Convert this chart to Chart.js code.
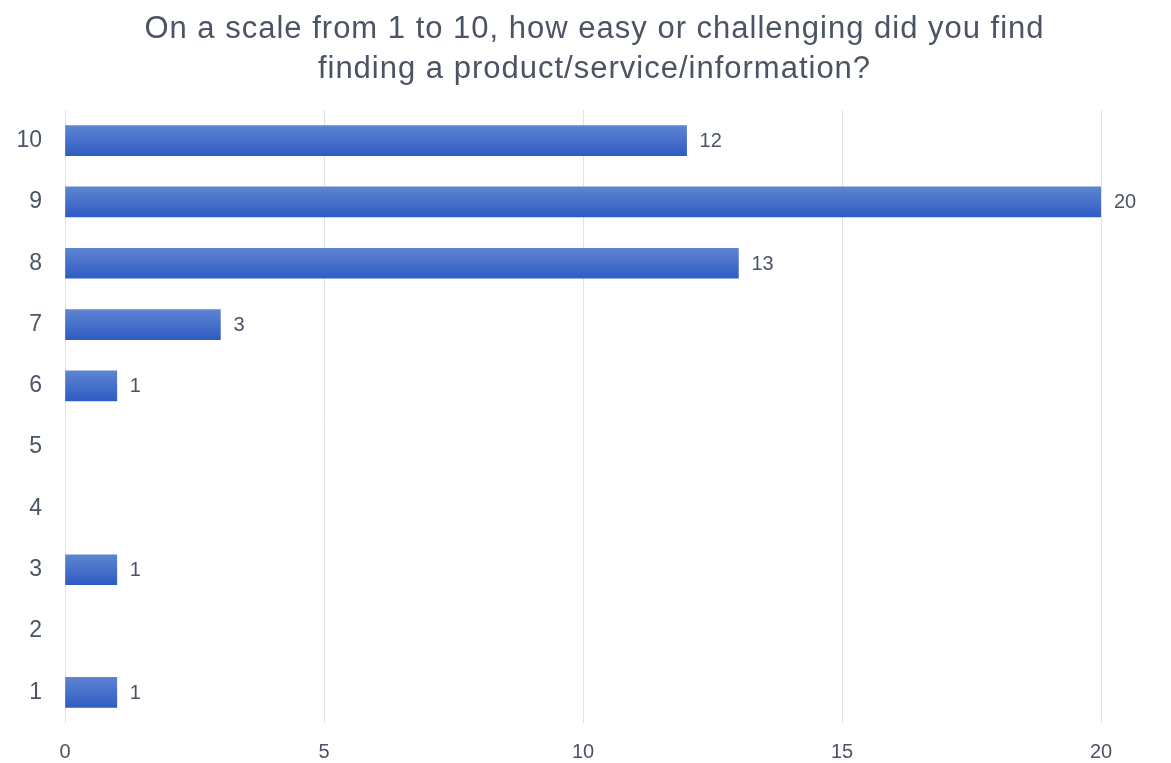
<!DOCTYPE html>
<html>
<head>
<meta charset="utf-8">
<script src="https://cdn.jsdelivr.net/npm/chart.js@4"></script>
<style>
  html, body { margin: 0; padding: 0; background: #fff; }
  #wrap { position: relative; width: 1171px; height: 763px; }
  #chartTitle {
    position: absolute; left: 0; top: 8px; width: 1171px;
    text-align: center; padding-left: 18px; box-sizing: border-box;
    font-family: 'Liberation Sans', Arial, sans-serif;
    font-size: 31px; line-height: 40px; letter-spacing: 1px;
    color: #4b5465;
  }
</style>
</head>
<body>
<div id="wrap">
  <div id="chartTitle"></div>
  <canvas id="ratingChart"></canvas>
</div>
<script>
const titleLines = [
  "On a scale from 1 to 10, how easy or challenging did you find",
  "finding a product/service/information?"
];
const ratings = ["10", "9", "8", "7", "6", "5", "4", "3", "2", "1"];
const responses = [12, 20, 13, 3, 1, 0, 0, 1, 0, 1];
const xTicks = [0, 5, 10, 15, 20];

const textColor = "#4b5465";
const fontFamily = "'Liberation Sans', Arial, sans-serif";
const barSize = 30;

document.getElementById("chartTitle").innerHTML = titleLines.join("<br>");

// value labels just past the end of each bar
const barValueLabels = {
  id: "barValueLabels",
  afterDatasetsDraw(chart) {
    const ctx = chart.ctx;
    const meta = chart.getDatasetMeta(0);
    ctx.save();
    ctx.font = "20px " + fontFamily;
    ctx.fillStyle = textColor;
    ctx.textAlign = "left";
    ctx.textBaseline = "middle";
    meta.data.forEach((bar, i) => {
      const v = chart.data.datasets[0].data[i];
      if (!v) return;
      ctx.fillText(String(v), bar.x + 13, bar.y + 1);
    });
    ctx.restore();
  }
};

// vertical gradient across each bar, lighter on top
function barGradient(context) {
  const chart = context.chart;
  const yScale = chart.scales.y;
  if (!context.raw) return "rgba(0,0,0,0)";
  if (!chart.chartArea || !yScale) return "#3f6bc9";
  const cy = yScale.getPixelForValue(context.dataIndex);
  if (!Number.isFinite(cy)) return "#3f6bc9";
  const g = chart.ctx.createLinearGradient(0, cy - barSize / 2, 0, cy + barSize / 2);
  g.addColorStop(0, "#5e84d2");
  g.addColorStop(1, "#2e5cc2");
  return g;
}

const ctx = document.getElementById("ratingChart").getContext("2d");
new Chart(ctx, {
  type: "bar",
  data: {
    labels: ratings,
    datasets: [{
      data: responses,
      backgroundColor: barGradient,
      barThickness: barSize,
      borderWidth: 0
    }]
  },
  options: {
    indexAxis: "y",
    responsive: true,
    maintainAspectRatio: false,
    animation: false,
    layout: { padding: { top: 110, right: 70, bottom: 0, left: 0 } },
    plugins: {
      legend: { display: false },
      tooltip: { enabled: false },
      title: { display: false }
    },
    scales: {
      x: {
        min: 0,
        max: 20,
        afterBuildTicks: axis => { axis.ticks = xTicks.map(v => ({ value: v })); },
        afterFit: axis => { axis.height = 40; },
        grid: { color: "#dfe2eb", drawTicks: false, lineWidth: 1 },
        border: { display: false },
        ticks: {
          color: textColor,
          padding: 17,
          font: { family: fontFamily, size: 20 }
        }
      },
      y: {
        grid: { display: false, drawTicks: false },
        border: { display: false },
        afterFit: axis => { axis.width = 65; },
        ticks: {
          color: textColor,
          padding: 23,
          font: { family: fontFamily, size: 23 }
        }
      }
    }
  },
  plugins: [barValueLabels]
});
</script>
</body>
</html>
